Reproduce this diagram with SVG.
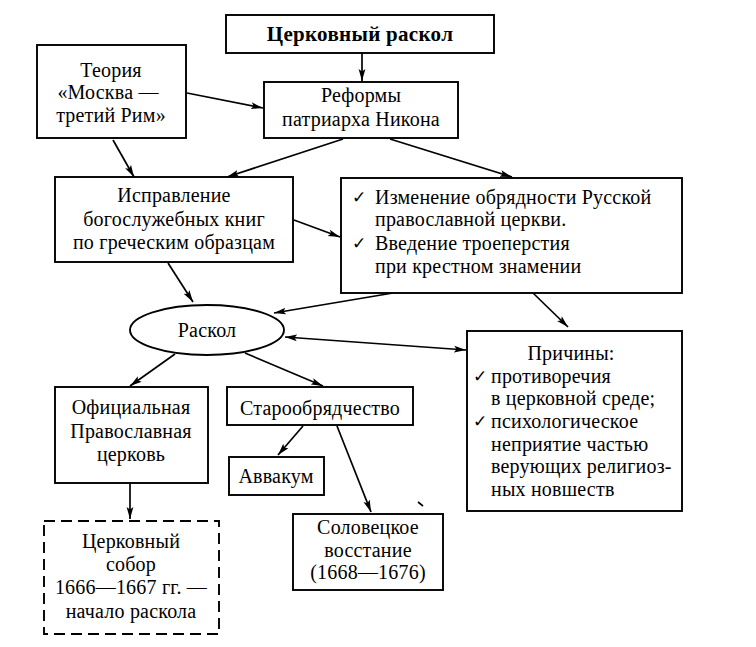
<svg xmlns="http://www.w3.org/2000/svg" width="756" height="647" viewBox="0 0 756 647">
<defs>
<marker id="ah" viewBox="0 0 12 8" refX="12" refY="4" markerWidth="12" markerHeight="8" markerUnits="userSpaceOnUse" orient="auto-start-reverse">
<path d="M0,0.6 L12,4 L0,7.4 L2.5,4 Z" fill="#000"/>
</marker>
<style>
rect, ellipse { fill: #fff; stroke: #000; stroke-width: 1.9; }
.dash { stroke-dasharray: 11 6; }
text { font-family: "Liberation Serif", "DejaVu Serif", serif; font-size: 20px; letter-spacing: 0.2px; fill: #000; }
.c { text-anchor: middle; }
.b { font-weight: bold; font-size: 21px; letter-spacing: 0.3px; }
.ck { font-family: "DejaVu Sans", sans-serif; font-size: 17px; }
.conn line, .conn path { stroke: #000; stroke-width: 1.7; fill: none; }
.arr { marker-end: url(#ah); }
.both { marker-start: url(#ah); marker-end: url(#ah); }
</style>
</defs>
<rect width="756" height="647" fill="#fff" style="stroke:none"/>

<g id="conn" class="conn">
<line class="arr" x1="362" y1="53" x2="362" y2="81"/>
<line class="arr" x1="187" y1="93" x2="263" y2="108"/>
<line class="arr" x1="113" y1="140" x2="134" y2="177"/>
<line class="arr" x1="343" y1="139" x2="227" y2="177"/>
<line class="arr" x1="390" y1="139" x2="512" y2="177"/>
<line class="arr" x1="294" y1="220" x2="340" y2="237"/>
<line class="arr" x1="393" y1="293" x2="274" y2="313"/>
<line class="arr" x1="533" y1="293" x2="568" y2="327"/>
<line class="arr" x1="168" y1="263" x2="193" y2="302"/>
<line class="both" x1="285" y1="337" x2="466" y2="350"/>
<line class="arr" x1="175" y1="354" x2="130" y2="386"/>
<line class="arr" x1="245" y1="353" x2="323" y2="386"/>
<line class="arr" x1="130" y1="484" x2="130" y2="519"/>
<line class="arr" x1="303" y1="426" x2="278" y2="455"/>
<line class="arr" x1="337" y1="426" x2="371" y2="512"/>
<path d="M418,502 L423,506"/>
</g>

<g id="n-raskol-title">
<rect x="226" y="15" width="268" height="38"/>
<text class="c b" x="360" y="41">Церковный раскол</text>
</g>

<g id="n-teoria">
<rect x="37" y="45" width="149" height="93"/>
<text class="c" x="111" y="77">Теория</text>
<text class="c" x="108" y="99">«Москва —</text>
<text class="c" x="111" y="122">третий Рим»</text>
</g>

<g id="n-reformy">
<rect x="264" y="82" width="194" height="56"/>
<text class="c" x="361" y="102">Реформы</text>
<text class="c" x="361" y="126">патриарха Никона</text>
</g>

<g id="n-ispravlenie">
<rect x="55" y="177" width="238" height="85"/>
<text class="c" x="174" y="202">Исправление</text>
<text class="c" x="174" y="226">богослужебных книг</text>
<text class="c" x="174" y="249">по греческим образцам</text>
</g>

<g id="n-izmenenie">
<rect x="341" y="178" width="341" height="115"/>
<text class="ck" x="352" y="203">✓</text>
<text x="375" y="204">Изменение обрядности Русской</text>
<text x="375" y="226">православной церкви.</text>
<text class="ck" x="352" y="249">✓</text>
<text x="375" y="250">Введение троеперстия</text>
<text x="375" y="273">при крестном знамении</text>
</g>

<g id="n-raskol">
<ellipse cx="207" cy="330" rx="77" ry="25"/>
<text class="c" x="207" y="337">Раскол</text>
</g>

<g id="n-prichiny">
<rect x="467" y="331" width="215" height="180"/>
<text class="c" x="571" y="360">Причины:</text>
<text class="ck" x="473" y="382">✓</text>
<text x="491" y="383">противоречия</text>
<text x="491" y="405">в церковной среде;</text>
<text class="ck" x="473" y="427">✓</text>
<text x="491" y="428">психологическое</text>
<text x="491" y="451">неприятие частью</text>
<text x="491" y="473">верующих религиоз-</text>
<text x="491" y="496">ных новшеств</text>
</g>

<g id="n-oficialnaya">
<rect x="55" y="387" width="153" height="96"/>
<text class="c" x="131" y="414">Официальная</text>
<text class="c" x="131" y="438">Православная</text>
<text class="c" x="131" y="461">церковь</text>
</g>

<g id="n-staroobr">
<rect x="227" y="387" width="186" height="38"/>
<text class="c" x="320" y="415">Старообрядчество</text>
</g>

<g id="n-avvakum">
<rect x="229" y="457" width="95" height="38"/>
<text class="c" x="276" y="483">Аввакум</text>
</g>

<g id="n-solovki">
<rect x="293" y="514" width="150" height="76"/>
<text class="c" x="368" y="534">Соловецкое</text>
<text class="c" x="368" y="557">восстание</text>
<text class="c" x="368" y="579">(1668—1676)</text>
</g>

<g id="n-sobor">
<rect class="dash" x="44" y="521" width="175" height="113"/>
<text class="c" x="131" y="548">Церковный</text>
<text class="c" x="131" y="571">собор</text>
<text class="c" x="131" y="594">1666—1667 гг. —</text>
<text class="c" x="131" y="618">начало раскола</text>
</g>
</svg>
